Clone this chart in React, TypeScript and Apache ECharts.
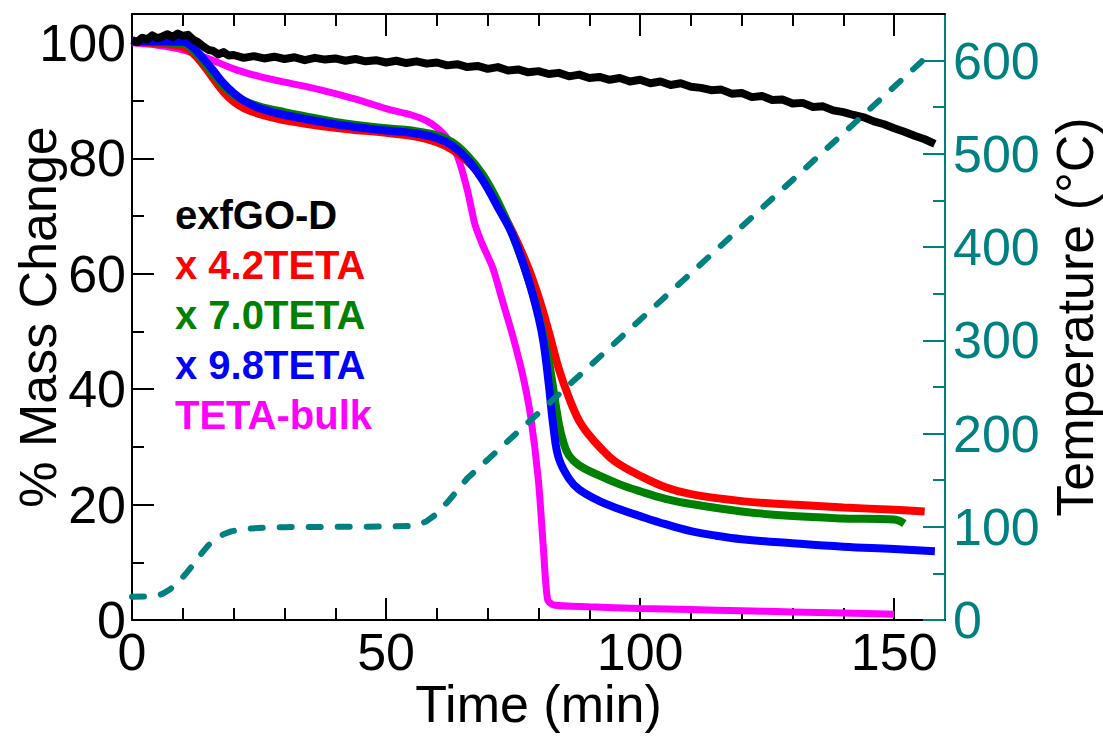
import React, { useEffect, useRef } from "react";
import * as echarts from "echarts";

const FONT = "'Liberation Sans', Arial, Helvetica, sans-serif";

// Axis ticks
const xMajorTicks = [0, 50, 100, 150];
const xMinorTicks = [10, 20, 30, 40, 60, 70, 80, 90, 110, 120, 130, 140];
const leftMajorTicks = [0, 20, 40, 60, 80, 100];
const leftMinorTicks = [10, 30, 50, 70, 90];
const rightMajorTicks = [0, 100, 200, 300, 400, 500, 600];
const rightMinorTicks = [50, 150, 250, 350, 450, 550];

// exfGO-D (black)
const blackT = [0, 1, 2, 3, 4, 5, 6, 7, 8, 9, 10, 11, 12, 13, 14, 15, 16, 17, 18, 19, 20, 22, 24, 26, 28, 30, 32, 34, 36, 38, 40, 42, 44, 46, 48, 50, 52, 54, 56, 58, 60, 62, 64, 66, 68, 70, 72, 74, 76, 78, 80, 82, 84, 86, 88, 90, 92, 94, 96, 98, 100, 102, 104, 106, 108, 110, 112, 114, 116, 118, 120, 122, 124, 126, 128, 130, 132, 134, 136, 138, 140, 142, 144, 146, 148, 150, 152, 154, 156, 158];
const blackV = [100.5, 100.1, 100.9, 100.6, 101.3, 100.8, 101.1, 101.5, 101.0, 101.6, 101.2, 101.4, 100.6, 100.1, 99.4, 98.8, 98.6, 98.0, 98.4, 97.8, 97.9, 97.4, 97.7, 97.3, 97.6, 97.2, 97.5, 97.0, 97.4, 97.1, 97.3, 96.9, 97.2, 96.8, 97.0, 96.6, 96.9, 96.5, 96.8, 96.4, 96.6, 96.1, 96.3, 95.8, 96.0, 95.5, 95.8, 95.2, 95.4, 94.9, 95.1, 94.6, 94.8, 94.2, 94.5, 93.9, 94.1, 93.6, 93.9, 93.3, 93.6, 93.0, 93.3, 92.7, 93.0, 92.4, 92.2, 91.8, 91.9, 91.2, 91.3, 90.6, 90.8, 90.1, 90.2, 89.5, 89.6, 88.9, 89.0, 88.3, 88.0, 87.5, 87.1, 86.4, 85.9, 85.2, 84.6, 83.9, 83.3, 82.5];

// x 4.2TETA (red)
const redT = [0, 5, 10, 12, 14, 16, 18, 20, 22, 25, 30, 40, 50, 55, 60, 63, 66, 69, 72, 75, 78, 80, 82, 84, 86, 88, 90, 92, 95, 100, 105, 110, 120, 130, 140, 150, 156];
const redV = [100.2, 99.9, 99.3, 98.2, 96.2, 93.8, 91.5, 89.8, 88.7, 87.7, 86.6, 85.3, 84.4, 83.9, 82.8, 81.5, 79.5, 76.5, 72.0, 67.0, 61.0, 56.0, 50.0, 43.5, 38.5, 34.5, 32.0, 30.0, 27.5, 25.0, 23.0, 21.8, 20.6, 20.0, 19.5, 19.1, 18.8];

// x 7.0TETA (green)
const greenT = [0, 10, 12, 14, 16, 18, 20, 22, 25, 30, 40, 50, 55, 60, 63, 66, 69, 72, 75, 78, 80, 82, 84, 85, 86, 88, 92, 96, 100, 105, 110, 120, 130, 140, 150, 152];
const greenV = [100.2, 99.9, 98.8, 96.8, 94.5, 92.5, 91.0, 90.0, 89.0, 88.0, 86.3, 85.2, 84.8, 84.0, 82.8, 80.5, 77.2, 72.5, 66.5, 59.0, 53.0, 45.0, 34.0, 30.5, 28.5, 26.8, 25.0, 23.5, 22.3, 21.0, 20.1, 18.8, 18.0, 17.6, 17.4, 16.7];

// x 9.8TETA (blue)
const blueT = [0, 10, 12, 14, 16, 18, 20, 22, 25, 30, 40, 50, 55, 60, 63, 66, 69, 72, 75, 78, 80, 81, 82, 83, 84, 86, 88, 92, 96, 100, 105, 110, 115, 120, 130, 140, 150, 158];
const blueV = [100.3, 100.2, 99.2, 97.3, 95.2, 93.0, 91.3, 90.0, 88.7, 87.5, 85.9, 84.8, 84.4, 83.5, 82.2, 79.8, 76.2, 71.5, 66.5, 59.0, 52.5, 48.0, 41.0, 33.0, 28.0, 24.5, 22.6, 20.6, 19.2, 18.0, 16.6, 15.4, 14.6, 14.0, 13.3, 12.7, 12.3, 11.9];

// TETA-bulk (magenta)
const magT = [0, 5, 10, 15, 20, 25, 30, 35, 40, 45, 50, 55, 58, 60, 62, 64, 66, 67.5, 69, 71, 73, 75, 77, 78.5, 80, 81, 81.8, 83, 90, 100, 110, 120, 130, 140, 150];
const magV = [100.0, 99.6, 98.8, 97.3, 95.5, 94.2, 93.2, 92.3, 91.2, 90.0, 88.6, 87.5, 86.5, 85.3, 83.5, 80.5, 74.5, 68.5, 65.0, 61.0, 55.0, 49.0, 42.0, 35.0, 24.0, 12.0, 3.5, 2.6, 2.3, 2.0, 1.8, 1.6, 1.4, 1.2, 1.0];

// Temperature (teal dashed, right axis)
const tempT = [0, 4.5, 6, 7.5, 9, 10.5, 12, 13.5, 15, 16.5, 18, 19.5, 21, 23, 26, 30, 40, 50, 55, 56.5, 58, 59.5, 61, 62.5, 64, 66, 82, 100, 120, 140, 156];
const tempV = [25, 25.5, 28, 33, 40, 49, 59, 70, 80, 87, 92, 95, 96.8, 98, 99, 99.6, 100, 100.2, 100.8, 102.5, 106, 112, 120, 129, 139, 152, 232, 322, 422, 522, 602];

const seriesNames = ["exfGO-D", "x 4.2TETA", "x 7.0TETA", "x 9.8TETA", "TETA-bulk"];
const seriesColors = ["#000000", "#ff0000", "#008000", "#0000ff", "#ff00ff"];

const zip = (t: number[], v: number[]) => t.map((x, i) => [x, v[i]]);

export default function App() {
  const ref = useRef<HTMLDivElement>(null);
  useEffect(() => {
    document.body.style.margin = "0";
    if (!ref.current) return;
    const chart = echarts.init(ref.current, null, { renderer: "svg" });
    const axisLineBlack = { show: true, onZero: false, lineStyle: { color: "#000", width: 2 } };
    const noLine = { show: false, onZero: false };
    const teal = "#008080";
    const labelStyle = { fontSize: 52, color: "#000", fontFamily: FONT };
    const nameStyle = { fontSize: 52, color: "#000", fontFamily: FONT };
    const tick = (vals: number[], len: number, color = "#000") => ({
      show: true, inside: true, length: len, customValues: vals, lineStyle: { color, width: 2 },
    });

    const option: any = {
      animation: false,
      backgroundColor: "#ffffff",
      grid: { left: 132, right: 158, top: 14, bottom: 120, containLabel: false, outerBoundsMode: "none" },
      legend: {
        orient: "vertical",
        left: 165,
        top: 190,
        icon: "none",
        itemWidth: 0,
        itemHeight: 10,
        itemGap: 10,
        selectedMode: false,
        textStyle: { fontSize: 40, fontWeight: "bold", fontFamily: FONT },
        data: seriesNames.map((n, i) => ({ name: n, textStyle: { color: seriesColors[i] } })),
      },
      xAxis: [
        {
          type: "value", position: "bottom", min: 0, max: 160,
          axisLine: axisLineBlack,
          axisTick: tick(xMajorTicks, 22),
          axisLabel: { show: true, customValues: xMajorTicks, margin: 6, ...labelStyle },
          splitLine: { show: false },
          name: "Time (min)", nameLocation: "middle", nameGap: 58, nameMoveOverlap: false, nameTextStyle: nameStyle,
        },
        {
          type: "value", position: "bottom", min: 0, max: 160,
          axisLine: noLine, axisTick: tick(xMinorTicks, 12),
          axisLabel: { show: false }, splitLine: { show: false },
        },
        {
          type: "value", position: "top", min: 0, max: 160,
          axisLine: axisLineBlack, axisTick: tick(xMajorTicks, 22),
          axisLabel: { show: false }, splitLine: { show: false },
        },
        {
          type: "value", position: "top", min: 0, max: 160,
          axisLine: noLine, axisTick: tick(xMinorTicks, 12),
          axisLabel: { show: false }, splitLine: { show: false },
        },
      ],
      yAxis: [
        {
          type: "value", position: "left", min: 0, max: 105,
          axisLine: axisLineBlack,
          axisTick: tick(leftMajorTicks, 22),
          axisLabel: { show: true, customValues: leftMajorTicks, margin: 6, ...labelStyle },
          splitLine: { show: false },
          name: "% Mass Change", nameLocation: "middle", nameRotate: 90, nameGap: 68, nameMoveOverlap: false, nameTextStyle: nameStyle,
        },
        {
          type: "value", position: "left", min: 0, max: 105,
          axisLine: noLine, axisTick: tick(leftMinorTicks, 12),
          axisLabel: { show: false }, splitLine: { show: false },
        },
        {
          type: "value", position: "right", min: 0, max: 650,
          axisLine: { show: true, onZero: false, lineStyle: { color: teal, width: 2 } },
          axisTick: tick(rightMajorTicks, 22, teal),
          axisLabel: { show: true, customValues: rightMajorTicks, margin: 8, ...labelStyle, color: teal },
          splitLine: { show: false },
          name: "Temperature (°C)", nameLocation: "middle", nameRotate: 90, nameGap: 104, nameMoveOverlap: false, nameTextStyle: nameStyle,
        },
        {
          type: "value", position: "right", min: 0, max: 650,
          axisLine: noLine, axisTick: tick(rightMinorTicks, 12, teal),
          axisLabel: { show: false }, splitLine: { show: false },
        },
      ],
      series: [
        { name: "TETA-bulk", type: "line", xAxisIndex: 0, yAxisIndex: 0, data: zip(magT, magV), showSymbol: false, symbol: "none", smooth: 0.25, lineStyle: { color: "#ff00ff", width: 7 }, itemStyle: { color: "#ff00ff" }, z: 2 },
        { name: "x 4.2TETA", type: "line", xAxisIndex: 0, yAxisIndex: 0, data: zip(redT, redV), showSymbol: false, symbol: "none", smooth: 0.4, lineStyle: { color: "#ff0000", width: 8 }, itemStyle: { color: "#ff0000" }, z: 3 },
        { name: "x 7.0TETA", type: "line", xAxisIndex: 0, yAxisIndex: 0, data: zip(greenT, greenV), showSymbol: false, symbol: "none", smooth: 0.4, lineStyle: { color: "#008000", width: 8 }, itemStyle: { color: "#008000" }, z: 4 },
        { name: "x 9.8TETA", type: "line", xAxisIndex: 0, yAxisIndex: 0, data: zip(blueT, blueV), showSymbol: false, symbol: "none", smooth: 0.4, lineStyle: { color: "#0000ff", width: 8 }, itemStyle: { color: "#0000ff" }, z: 5 },
        { name: "exfGO-D", type: "line", xAxisIndex: 0, yAxisIndex: 0, data: zip(blackT, blackV), showSymbol: false, symbol: "none", lineStyle: { color: "#000000", width: 8, join: "round" }, itemStyle: { color: "#000000" }, z: 6 },
        { name: "Temperature", type: "line", xAxisIndex: 0, yAxisIndex: 2, data: zip(tempT, tempV), showSymbol: false, symbol: "none", lineStyle: { color: teal, width: 6, type: [12, 17], cap: "round", join: "round" }, itemStyle: { color: teal }, z: 7 },
      ],
    };
    chart.setOption(option);
    return () => chart.dispose();
  }, []);
  return <div ref={ref} style={{ width: 1103, height: 740 }} />;
}
